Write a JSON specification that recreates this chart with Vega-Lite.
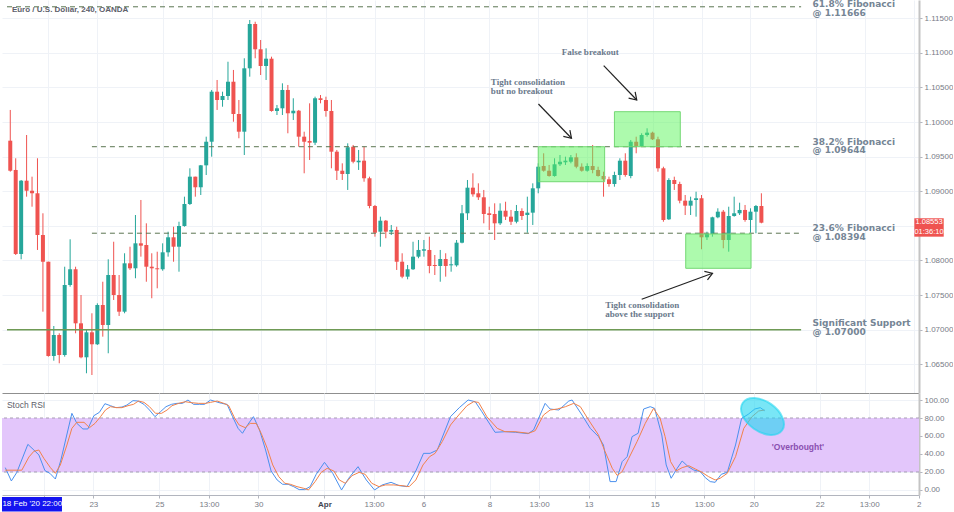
{
"$schema":"https://vega.github.io/schema/vega-lite/v6.json",
"padding":0,
"background":"white",
"spacing":0,
"bounds":"flush",
"config":{"view":{"stroke":null},"font":"Liberation Sans","axis":{"labelFont":"Liberation Sans","labelFontSize":8,"labelColor":"#787b86","gridColor":"#eff2f7","domainColor":"#b2b5be","tickColor":"#b2b5be"}},
"datasets":{
"candles":[
{"i":1,"o":1.09731,"h":1.10175,"l":1.09283,"c":1.09297},
{"i":2,"o":1.09308,"h":1.09477,"l":1.08079,"c":1.08094},
{"i":3,"o":1.08094,"h":1.09163,"l":1.08017,"c":1.09153},
{"i":4,"o":1.09153,"h":1.09813,"l":1.08922,"c":1.09008},
{"i":5,"o":1.09008,"h":1.09211,"l":1.08777,"c":1.08971},
{"i":6,"o":1.08971,"h":1.09477,"l":1.08152,"c":1.08368},
{"i":7,"o":1.08368,"h":1.08682,"l":1.0726,"c":1.07982},
{"i":8,"o":1.07982,"h":1.07982,"l":1.0661,"c":1.0662},
{"i":9,"o":1.0662,"h":1.07053,"l":1.06552,"c":1.06923},
{"i":10,"o":1.06923,"h":1.06948,"l":1.06514,"c":1.06634},
{"i":11,"o":1.06634,"h":1.0791,"l":1.0661,"c":1.07646},
{"i":12,"o":1.07646,"h":1.08306,"l":1.07621,"c":1.07873},
{"i":13,"o":1.07873,"h":1.0791,"l":1.06948,"c":1.07092},
{"i":14,"o":1.07092,"h":1.07501,"l":1.06587,"c":1.06601},
{"i":15,"o":1.06601,"h":1.06996,"l":1.0637,"c":1.06962},
{"i":16,"o":1.06962,"h":1.07237,"l":1.06345,"c":1.06789},
{"i":17,"o":1.06789,"h":1.07381,"l":1.06779,"c":1.07357},
{"i":18,"o":1.07357,"h":1.07693,"l":1.06899,"c":1.07068},
{"i":19,"o":1.07068,"h":1.08017,"l":1.06659,"c":1.0779},
{"i":20,"o":1.0779,"h":1.08271,"l":1.07429,"c":1.07501},
{"i":21,"o":1.07501,"h":1.0779,"l":1.07198,"c":1.0726},
{"i":22,"o":1.0726,"h":1.08104,"l":1.07237,"c":1.07959},
{"i":23,"o":1.07959,"h":1.08199,"l":1.07863,"c":1.07887},
{"i":24,"o":1.07887,"h":1.08657,"l":1.07743,"c":1.08248},
{"i":25,"o":1.08248,"h":1.08874,"l":1.08055,"c":1.08214},
{"i":26,"o":1.08224,"h":1.08537,"l":1.07693,"c":1.0791},
{"i":27,"o":1.0791,"h":1.08104,"l":1.07454,"c":1.07887},
{"i":28,"o":1.07887,"h":1.08127,"l":1.07598,"c":1.07873},
{"i":29,"o":1.07873,"h":1.08248,"l":1.07852,"c":1.08118},
{"i":30,"o":1.08118,"h":1.08416,"l":1.08055,"c":1.08335},
{"i":31,"o":1.08335,"h":1.08488,"l":1.07982,"c":1.08199},
{"i":32,"o":1.08199,"h":1.0856,"l":1.07838,"c":1.08498},
{"i":33,"o":1.08498,"h":1.08922,"l":1.08488,"c":1.08816},
{"i":34,"o":1.08816,"h":1.09332,"l":1.08802,"c":1.09211},
{"i":35,"o":1.09211,"h":1.09211,"l":1.08922,"c":1.09058},
{"i":36,"o":1.09058,"h":1.0938,"l":1.08946,"c":1.09375},
{"i":37,"o":1.09375,"h":1.09789,"l":1.09235,"c":1.09716},
{"i":38,"o":1.09716,"h":1.10464,"l":1.095,"c":1.10439},
{"i":39,"o":1.10439,"h":1.10608,"l":1.10175,"c":1.10319},
{"i":40,"o":1.10319,"h":1.10439,"l":1.10222,"c":1.10377},
{"i":41,"o":1.10377,"h":1.10872,"l":1.10319,"c":1.10583},
{"i":42,"o":1.10583,"h":1.10753,"l":1.10005,"c":1.10117},
{"i":43,"o":1.10117,"h":1.10319,"l":1.09766,"c":1.09861},
{"i":44,"o":1.09861,"h":1.10922,"l":1.09524,"c":1.10777},
{"i":45,"o":1.10777,"h":1.11475,"l":1.10656,"c":1.11417},
{"i":46,"o":1.11417,"h":1.1145,"l":1.10922,"c":1.11052},
{"i":47,"o":1.11052,"h":1.11186,"l":1.1068,"c":1.1081},
{"i":48,"o":1.1081,"h":1.11066,"l":1.10608,"c":1.10916},
{"i":49,"o":1.10916,"h":1.10945,"l":1.1015,"c":1.1016},
{"i":50,"o":1.1016,"h":1.10247,"l":1.10102,"c":1.10199},
{"i":51,"o":1.10199,"h":1.1056,"l":1.10102,"c":1.10464},
{"i":52,"o":1.10464,"h":1.10536,"l":1.09838,"c":1.10127},
{"i":53,"o":1.10127,"h":1.10344,"l":1.1003,"c":1.10164},
{"i":54,"o":1.10164,"h":1.10175,"l":1.09644,"c":1.09789},
{"i":55,"o":1.09789,"h":1.09861,"l":1.0926,"c":1.09716},
{"i":56,"o":1.09727,"h":1.10271,"l":1.09452,"c":1.09702},
{"i":57,"o":1.09702,"h":1.10367,"l":1.09669,"c":1.10344},
{"i":58,"o":1.10344,"h":1.10391,"l":1.10271,"c":1.10319},
{"i":59,"o":1.10319,"h":1.10367,"l":1.10078,"c":1.1016},
{"i":60,"o":1.1016,"h":1.10319,"l":1.09332,"c":1.09572},
{"i":61,"o":1.09572,"h":1.09597,"l":1.09163,"c":1.09297},
{"i":62,"o":1.09297,"h":1.09404,"l":1.09163,"c":1.0925},
{"i":63,"o":1.0925,"h":1.09693,"l":1.09019,"c":1.09636},
{"i":64,"o":1.09644,"h":1.09669,"l":1.09404,"c":1.09427},
{"i":65,"o":1.09419,"h":1.09597,"l":1.09308,"c":1.09442},
{"i":66,"o":1.09442,"h":1.09644,"l":1.09138,"c":1.09188},
{"i":67,"o":1.09188,"h":1.09211,"l":1.08754,"c":1.08787},
{"i":68,"o":1.08787,"h":1.08802,"l":1.08344,"c":1.08401},
{"i":69,"o":1.08416,"h":1.08633,"l":1.08199,"c":1.08575},
{"i":70,"o":1.08575,"h":1.08585,"l":1.08321,"c":1.08416},
{"i":71,"o":1.08416,"h":1.08513,"l":1.08368,"c":1.08441},
{"i":72,"o":1.08441,"h":1.08488,"l":1.07863,"c":1.07982},
{"i":73,"o":1.07982,"h":1.08104,"l":1.07743,"c":1.07766},
{"i":74,"o":1.07766,"h":1.07935,"l":1.07728,"c":1.07873},
{"i":75,"o":1.07873,"h":1.08271,"l":1.07863,"c":1.08055},
{"i":76,"o":1.08055,"h":1.08296,"l":1.08032,"c":1.08152},
{"i":77,"o":1.08141,"h":1.08296,"l":1.08055,"c":1.08162},
{"i":78,"o":1.08152,"h":1.08344,"l":1.07815,"c":1.0792},
{"i":79,"o":1.07935,"h":1.08079,"l":1.0779,"c":1.0792},
{"i":80,"o":1.0792,"h":1.08152,"l":1.07693,"c":1.08021},
{"i":81,"o":1.08021,"h":1.08104,"l":1.07766,"c":1.0792},
{"i":82,"o":1.0793,"h":1.08055,"l":1.07838,"c":1.07945},
{"i":83,"o":1.0793,"h":1.08296,"l":1.0791,"c":1.08257},
{"i":84,"o":1.08257,"h":1.08802,"l":1.08248,"c":1.08682},
{"i":85,"o":1.08682,"h":1.09163,"l":1.08585,"c":1.09052},
{"i":86,"o":1.09052,"h":1.0926,"l":1.08922,"c":1.08956},
{"i":87,"o":1.08971,"h":1.09115,"l":1.08874,"c":1.08913},
{"i":88,"o":1.08913,"h":1.09019,"l":1.08537,"c":1.08672},
{"i":89,"o":1.08682,"h":1.08777,"l":1.08441,"c":1.08657},
{"i":90,"o":1.08672,"h":1.08826,"l":1.08296,"c":1.08537},
{"i":91,"o":1.08537,"h":1.08826,"l":1.08513,"c":1.08719},
{"i":92,"o":1.08719,"h":1.08849,"l":1.08585,"c":1.08633},
{"i":93,"o":1.08633,"h":1.0873,"l":1.08513,"c":1.0856},
{"i":94,"o":1.0856,"h":1.08802,"l":1.08537,"c":1.08715},
{"i":95,"o":1.08715,"h":1.08754,"l":1.08585,"c":1.08643},
{"i":96,"o":1.08657,"h":1.08922,"l":1.08401,"c":1.08691},
{"i":97,"o":1.08691,"h":1.09115,"l":1.08513,"c":1.09043},
{"i":98,"o":1.09043,"h":1.09404,"l":1.08971,"c":1.09355},
{"i":99,"o":1.09365,"h":1.09549,"l":1.09283,"c":1.09297},
{"i":100,"o":1.09297,"h":1.0938,"l":1.09211,"c":1.09221},
{"i":101,"o":1.09221,"h":1.09477,"l":1.09211,"c":1.0939},
{"i":102,"o":1.0939,"h":1.09524,"l":1.09365,"c":1.09427},
{"i":103,"o":1.09419,"h":1.095,"l":1.0938,"c":1.09442},
{"i":104,"o":1.09427,"h":1.09524,"l":1.09404,"c":1.09491},
{"i":105,"o":1.09491,"h":1.09549,"l":1.09332,"c":1.09355},
{"i":106,"o":1.09355,"h":1.09404,"l":1.09283,"c":1.09297},
{"i":107,"o":1.09297,"h":1.09404,"l":1.09283,"c":1.09365},
{"i":108,"o":1.09365,"h":1.09669,"l":1.0926,"c":1.09308},
{"i":109,"o":1.09308,"h":1.09355,"l":1.09211,"c":1.09221},
{"i":110,"o":1.09221,"h":1.09283,"l":1.08922,"c":1.09173},
{"i":111,"o":1.09173,"h":1.09211,"l":1.09066,"c":1.09105},
{"i":112,"o":1.09105,"h":1.09283,"l":1.09066,"c":1.09235},
{"i":113,"o":1.09235,"h":1.09477,"l":1.09163,"c":1.09442},
{"i":114,"o":1.09442,"h":1.09549,"l":1.09211,"c":1.09235},
{"i":115,"o":1.09221,"h":1.09741,"l":1.09188,"c":1.09716},
{"i":116,"o":1.09716,"h":1.09789,"l":1.09549,"c":1.09654},
{"i":117,"o":1.09654,"h":1.09838,"l":1.09644,"c":1.09813},
{"i":118,"o":1.09813,"h":1.0991,"l":1.09789,"c":1.09847},
{"i":119,"o":1.09847,"h":1.09861,"l":1.09741,"c":1.09751},
{"i":120,"o":1.09751,"h":1.09789,"l":1.09283,"c":1.09332},
{"i":121,"o":1.09332,"h":1.09355,"l":1.0856,"c":1.08585},
{"i":122,"o":1.08595,"h":1.09188,"l":1.08585,"c":1.09163},
{"i":123,"o":1.09163,"h":1.09211,"l":1.09019,"c":1.09105},
{"i":124,"o":1.09105,"h":1.09138,"l":1.08826,"c":1.08864},
{"i":125,"o":1.08864,"h":1.08946,"l":1.08657,"c":1.08792},
{"i":126,"o":1.08792,"h":1.08922,"l":1.08657,"c":1.08864},
{"i":127,"o":1.08874,"h":1.08994,"l":1.08633,"c":1.08899},
{"i":128,"o":1.08899,"h":1.08946,"l":1.08162,"c":1.08335},
{"i":129,"o":1.08335,"h":1.08416,"l":1.08296,"c":1.08383},
{"i":130,"o":1.08383,"h":1.08633,"l":1.08344,"c":1.08624},
{"i":131,"o":1.08624,"h":1.08754,"l":1.0861,"c":1.08705},
{"i":132,"o":1.08705,"h":1.0873,"l":1.08176,"c":1.08296},
{"i":133,"o":1.08296,"h":1.08777,"l":1.08127,"c":1.08643},
{"i":134,"o":1.08643,"h":1.08922,"l":1.08633,"c":1.08682},
{"i":135,"o":1.08682,"h":1.08835,"l":1.08657,"c":1.0873},
{"i":136,"o":1.0873,"h":1.08802,"l":1.0856,"c":1.08585},
{"i":137,"o":1.08585,"h":1.08754,"l":1.08401,"c":1.08705},
{"i":138,"o":1.08705,"h":1.08802,"l":1.08393,"c":1.08787},
{"i":139,"o":1.08787,"h":1.08971,"l":1.08537,"c":1.08546}
],
"levels":[
{"kind":"fib","p":1.11666,"a":0.4,"b":146.3},
{"kind":"fib","p":1.09644,"a":16,"b":146.3},
{"kind":"fib","p":1.08394,"a":16,"b":146.3},
{"kind":"support","p":1.07,"a":0.4,"b":146.3}
],
"levelLabels":[
{"t":"61.8% Fibonacci\n@ 1.11666","i":148.4,"p":1.11764},
{"t":"38.2% Fibonacci\n@ 1.09644","i":148.4,"p":1.09777},
{"t":"23.6% Fibonacci\n@ 1.08394","i":148.4,"p":1.08523},
{"t":"Significant Support\n@ 1.07000","i":148.4,"p":1.07154}
],
"boxes":[
{"a":98.0,"b":110.2,"lo":1.09138,"hi":1.09644},
{"a":112.0,"b":124.1,"lo":1.09644,"hi":1.1015},
{"a":125.1,"b":137.1,"lo":1.07887,"hi":1.08383}
],
"arrows":[
{"n":"a1","i1":98.04,"p1":1.10261,"i2":104.11,"p2":1.09766},
{"n":"a2","i1":110.03,"p1":1.10815,"i2":116.1,"p2":1.10319},
{"n":"a3","i1":117.01,"p1":1.07439,"i2":130.02,"p2":1.07815}
],
"notes":[
{"t":"Tight consolidation\nbut no breakout","i":89.3,"p":1.1064},
{"t":"False breakout","i":102.3,"p":1.1107},
{"t":"Tight consolidation\nabove the support","i":110.3,"p":1.0741}
],
"titles":[{"t":"Euro / U.S. Dollar, 240, OANDA","i":1.3,"p":1.11615}],
"tag":[{"a":167.1,"b":172.5,"lo":1.08344,"hi":1.0861}],
"tagText":[{"t":"1.08553","i":169.8,"p":1.08552},{"t":"01:36:10","i":169.8,"p":1.08411}],
"band":[{"lo":20,"hi":80}],
"bandLines":[{"v":80},{"v":20}],
"rsi":[
{"s":"K","i":1.0,"v":24.8},{"s":"K","i":2.1,"v":10},{"s":"K","i":3.1,"v":19.6},{"s":"K","i":5.1,"v":50.7},{"s":"K","i":6.2,"v":44.4},{"s":"K","i":7.1,"v":38.9},{"s":"K","i":8.2,"v":21.5},{"s":"K","i":9.1,"v":18.5},{"s":"K","i":10.1,"v":12.2},{"s":"K","i":11.1,"v":33.3},{"s":"K","i":13.1,"v":85.2},{"s":"K","i":14.0,"v":74.1},{"s":"K","i":15.1,"v":67.8},{"s":"K","i":16.0,"v":67.8},{"s":"K","i":17.1,"v":82.6},{"s":"K","i":18.1,"v":86.3},{"s":"K","i":19.1,"v":95.9},{"s":"K","i":20.1,"v":93.7},{"s":"K","i":21.1,"v":91.5},{"s":"K","i":22.2,"v":92.2},{"s":"K","i":23.1,"v":94.4},{"s":"K","i":24.2,"v":99.3},{"s":"K","i":25.1,"v":98.9},{"s":"K","i":26.2,"v":95.2},{"s":"K","i":27.2,"v":88.9},{"s":"K","i":28.2,"v":81.5},{"s":"K","i":29.2,"v":87},{"s":"K","i":30.2,"v":92.6},{"s":"K","i":31.2,"v":95.2},{"s":"K","i":32.2,"v":96.3},{"s":"K","i":33.2,"v":96.3},{"s":"K","i":34.2,"v":100},{"s":"K","i":35.2,"v":95.2},{"s":"K","i":36.3,"v":95.2},{"s":"K","i":37.2,"v":95.2},{"s":"K","i":38.3,"v":100},{"s":"K","i":39.3,"v":98.1},{"s":"K","i":40.3,"v":96.3},{"s":"K","i":41.3,"v":95.2},{"s":"K","i":42.3,"v":81.5},{"s":"K","i":43.3,"v":68.5},{"s":"K","i":44.1,"v":63},{"s":"K","i":45.1,"v":73},{"s":"K","i":46.1,"v":81.5},{"s":"K","i":47.2,"v":66.7},{"s":"K","i":48.3,"v":44.4},{"s":"K","i":49.3,"v":21.1},{"s":"K","i":50.4,"v":11.1},{"s":"K","i":51.4,"v":6.3},{"s":"K","i":52.4,"v":6.3},{"s":"K","i":53.4,"v":3.7},{"s":"K","i":54.4,"v":0.4},{"s":"K","i":55.4,"v":0.4},{"s":"K","i":56.4,"v":3.7},{"s":"K","i":57.5,"v":17.4},{"s":"K","i":59.0,"v":30.7},{"s":"K","i":60.5,"v":18.5},{"s":"K","i":62.1,"v":0},{"s":"K","i":63.4,"v":13},{"s":"K","i":65.1,"v":25.9},{"s":"K","i":66.6,"v":11.1},{"s":"K","i":68.1,"v":0},{"s":"K","i":69.5,"v":5.6},{"s":"K","i":71.1,"v":8.5},{"s":"K","i":72.6,"v":4.8},{"s":"K","i":74.0,"v":3.7},{"s":"K","i":75.6,"v":21.1},{"s":"K","i":77.0,"v":40.7},{"s":"K","i":78.2,"v":40.7},{"s":"K","i":79.5,"v":44.4},{"s":"K","i":81.9,"v":81.5},{"s":"K","i":83.5,"v":91.5},{"s":"K","i":85.1,"v":100},{"s":"K","i":86.4,"v":98.1},{"s":"K","i":87.6,"v":87},{"s":"K","i":90.0,"v":64.1},{"s":"K","i":91.9,"v":64.8},{"s":"K","i":93.7,"v":64.1},{"s":"K","i":96.0,"v":62.6},{"s":"K","i":97.0,"v":66.7},{"s":"K","i":99.1,"v":96.3},{"s":"K","i":100.0,"v":90},{"s":"K","i":101.6,"v":88.9},{"s":"K","i":103.4,"v":98.9},{"s":"K","i":104.0,"v":100},{"s":"K","i":105.8,"v":83.3},{"s":"K","i":107.3,"v":68.5},{"s":"K","i":108.8,"v":59.3},{"s":"K","i":109.7,"v":50},{"s":"K","i":110.9,"v":9.3},{"s":"K","i":112.0,"v":9.3},{"s":"K","i":113.1,"v":31.5},{"s":"K","i":114.0,"v":37},{"s":"K","i":114.9,"v":59.3},{"s":"K","i":116.0,"v":63},{"s":"K","i":117.0,"v":90},{"s":"K","i":118.2,"v":92.6},{"s":"K","i":119.0,"v":90.7},{"s":"K","i":120.3,"v":61.1},{"s":"K","i":121.1,"v":27.8},{"s":"K","i":122.0,"v":13},{"s":"K","i":123.1,"v":24.1},{"s":"K","i":124.0,"v":32.2},{"s":"K","i":125.1,"v":25.9},{"s":"K","i":126.1,"v":22.2},{"s":"K","i":127.3,"v":20.4},{"s":"K","i":128.2,"v":13.7},{"s":"K","i":129.1,"v":9.3},{"s":"K","i":130.0,"v":8.5},{"s":"K","i":131.1,"v":17.4},{"s":"K","i":132.2,"v":19.6},{"s":"K","i":133.7,"v":50},{"s":"K","i":134.8,"v":79.6},{"s":"K","i":136.0,"v":84.1},{"s":"K","i":137.2,"v":90},{"s":"K","i":138.2,"v":91.5},{"s":"K","i":139.0,"v":88},
{"s":"D","i":1.0,"v":22},{"s":"D","i":4.0,"v":22},{"s":"D","i":5.3,"v":36.7},{"s":"D","i":6.2,"v":43},{"s":"D","i":7.1,"v":44.4},{"s":"D","i":8.0,"v":35.2},{"s":"D","i":9.2,"v":24.8},{"s":"D","i":10.1,"v":18.5},{"s":"D","i":11.0,"v":27.8},{"s":"D","i":12.2,"v":50},{"s":"D","i":13.1,"v":68.5},{"s":"D","i":14.0,"v":75.2},{"s":"D","i":15.3,"v":75.2},{"s":"D","i":16.3,"v":69.3},{"s":"D","i":17.3,"v":74},{"s":"D","i":18.3,"v":81.5},{"s":"D","i":19.2,"v":88.9},{"s":"D","i":20.1,"v":92.6},{"s":"D","i":21.3,"v":91.5},{"s":"D","i":22.2,"v":91.5},{"s":"D","i":23.3,"v":93.7},{"s":"D","i":24.3,"v":95.2},{"s":"D","i":25.2,"v":98.9},{"s":"D","i":26.2,"v":97.4},{"s":"D","i":27.2,"v":92.6},{"s":"D","i":28.3,"v":85.2},{"s":"D","i":29.4,"v":85.2},{"s":"D","i":30.4,"v":88.9},{"s":"D","i":31.3,"v":93.7},{"s":"D","i":32.5,"v":96.3},{"s":"D","i":33.7,"v":98.1},{"s":"D","i":34.9,"v":97},{"s":"D","i":36.1,"v":96.3},{"s":"D","i":37.4,"v":96.3},{"s":"D","i":38.3,"v":97.4},{"s":"D","i":39.5,"v":98.9},{"s":"D","i":40.7,"v":96.3},{"s":"D","i":41.6,"v":93.7},{"s":"D","i":42.7,"v":79.6},{"s":"D","i":43.5,"v":72.2},{"s":"D","i":44.6,"v":69.3},{"s":"D","i":45.5,"v":74},{"s":"D","i":46.6,"v":74},{"s":"D","i":47.5,"v":63},{"s":"D","i":48.6,"v":46.3},{"s":"D","i":49.6,"v":27.8},{"s":"D","i":50.7,"v":14.8},{"s":"D","i":51.8,"v":7.4},{"s":"D","i":52.8,"v":6.3},{"s":"D","i":54.0,"v":3.7},{"s":"D","i":55.2,"v":1.9},{"s":"D","i":56.1,"v":0},{"s":"D","i":57.3,"v":9.3},{"s":"D","i":58.4,"v":19.6},{"s":"D","i":59.5,"v":24.1},{"s":"D","i":60.7,"v":21.1},{"s":"D","i":61.7,"v":11.1},{"s":"D","i":62.8,"v":7.4},{"s":"D","i":64.0,"v":15.9},{"s":"D","i":65.3,"v":19.6},{"s":"D","i":66.4,"v":17.4},{"s":"D","i":67.6,"v":7.4},{"s":"D","i":68.9,"v":3.7},{"s":"D","i":70.1,"v":5.6},{"s":"D","i":71.6,"v":5.6},{"s":"D","i":73.1,"v":4.8},{"s":"D","i":74.4,"v":3.7},{"s":"D","i":75.6,"v":11.1},{"s":"D","i":76.9,"v":27.8},{"s":"D","i":78.1,"v":37},{"s":"D","i":79.1,"v":40.7},{"s":"D","i":80.4,"v":53.7},{"s":"D","i":81.9,"v":72.2},{"s":"D","i":83.4,"v":83.3},{"s":"D","i":84.9,"v":93.7},{"s":"D","i":86.1,"v":98.1},{"s":"D","i":87.0,"v":97.4},{"s":"D","i":88.5,"v":81.5},{"s":"D","i":90.4,"v":68.5},{"s":"D","i":91.8,"v":64.8},{"s":"D","i":93.6,"v":64.8},{"s":"D","i":96.1,"v":63},{"s":"D","i":97.3,"v":65.9},{"s":"D","i":98.8,"v":83.3},{"s":"D","i":100.0,"v":88.9},{"s":"D","i":101.3,"v":90},{"s":"D","i":102.8,"v":92.6},{"s":"D","i":104.3,"v":96.3},{"s":"D","i":105.5,"v":92.6},{"s":"D","i":107.0,"v":77.8},{"s":"D","i":108.8,"v":61.1},{"s":"D","i":110.0,"v":42.6},{"s":"D","i":111.3,"v":24.1},{"s":"D","i":112.2,"v":16.1},{"s":"D","i":113.1,"v":20.4},{"s":"D","i":114.3,"v":35.2},{"s":"D","i":115.8,"v":53.7},{"s":"D","i":117.3,"v":74.1},{"s":"D","i":118.8,"v":90.7},{"s":"D","i":120.0,"v":79.6},{"s":"D","i":120.9,"v":59.3},{"s":"D","i":121.9,"v":31.5},{"s":"D","i":122.9,"v":21.1},{"s":"D","i":124.0,"v":24.8},{"s":"D","i":125.2,"v":27},{"s":"D","i":126.4,"v":23.3},{"s":"D","i":127.6,"v":19.6},{"s":"D","i":128.8,"v":14.8},{"s":"D","i":130.0,"v":11.1},{"s":"D","i":130.9,"v":13},{"s":"D","i":132.2,"v":18.5},{"s":"D","i":133.7,"v":37},{"s":"D","i":135.2,"v":68.5},{"s":"D","i":136.7,"v":81.5},{"s":"D","i":137.9,"v":87.8},{"s":"D","i":139.0,"v":88.9}
],
"ellipse":[{"i":138.6,"v":81.7}],
"rsiNotes":[{"t":"'Overbought'","i":140.3,"v":48.1}],
"rsiTitle":[{"t":"Stoch RSI","i":1.3,"v":94.4}],
"cursor":[{"a":0.4,"b":11.3,"lo":-24,"hi":-7.8}],
"cursorText":[{"t":"18 Feb '20   22:00","i":5.9,"v":-16.1}]
},
"vconcat":[
{
"width":917,"height":393,
"layer":[
{"data":{"name":"candles"},"mark":{"type":"rule","strokeWidth":1},
 "encoding":{
  "x":{"field":"i","type":"quantitative","scale":{"domain":[0.4,167.04],"nice":false,"zero":false},
       "axis":{"orient":"bottom","values":[8,17,29,38,47,59,68,77,89,98,107,119,128,137,149,158,167],"tickCount":40,"labels":false,"ticks":false,"domain":true,"domainColor":"#8f8f8f","grid":true,"title":null}},
  "y":{"field":"l","type":"quantitative","scale":{"domain":[1.06085,1.11764],"nice":false,"zero":false},
       "axis":{"orient":"right","values":[1.065,1.07,1.075,1.08,1.085,1.09,1.095,1.1,1.105,1.11,1.115],"tickCount":30,"labelExpr":"abs(datum.value - 1.085) < 0.000001 ? '' : format(datum.value, '.5f')","labelOverlap":false,"grid":true,"domainColor":"#c4c4c4","domainWidth":2,"tickSize":3,"labelPadding":2,"title":null}},
  "y2":{"field":"h"},
  "color":{"condition":{"test":"datum.c < datum.o","value":"#ef5350"},"value":"#26a69a"}}},
{"data":{"name":"candles"},"mark":{"type":"bar","size":4},
 "encoding":{
  "x":{"field":"i","type":"quantitative","scale":{"domain":[0.4,167.04],"nice":false,"zero":false},"title":null},
  "y":{"field":"o","type":"quantitative","scale":{"domain":[1.06085,1.11764],"nice":false,"zero":false},"title":null},
  "y2":{"field":"c"},
  "color":{"condition":{"test":"datum.c < datum.o","value":"#ef5350"},"value":"#26a69a"}}},
{"data":{"name":"levels"},"transform":[{"filter":"datum.kind == 'fib'"}],"mark":{"type":"rule","strokeDash":[5,4],"color":"#5b7551","strokeWidth":1},
 "encoding":{
  "x":{"field":"a","type":"quantitative","scale":{"domain":[0.4,167.04],"nice":false,"zero":false},"title":null},
  "x2":{"field":"b"},
  "y":{"field":"p","type":"quantitative","scale":{"domain":[1.06085,1.11764],"nice":false,"zero":false},"title":null}}},
{"data":{"name":"levels"},"transform":[{"filter":"datum.kind == 'support'"}],"mark":{"type":"rule","color":"#6f9a55","strokeWidth":1.5},
 "encoding":{
  "x":{"field":"a","type":"quantitative","scale":{"domain":[0.4,167.04],"nice":false,"zero":false},"title":null},
  "x2":{"field":"b"},
  "y":{"field":"p","type":"quantitative","scale":{"domain":[1.06085,1.11764],"nice":false,"zero":false},"title":null}}},
{"data":{"name":"boxes"},"mark":{"type":"rect","fill":"#5cf55c","fillOpacity":0.5,"stroke":"#74d874","strokeWidth":1},
 "encoding":{
  "x":{"field":"a","type":"quantitative","scale":{"domain":[0.4,167.04],"nice":false,"zero":false},"title":null},
  "x2":{"field":"b"},
  "y":{"field":"lo","type":"quantitative","scale":{"domain":[1.06085,1.11764],"nice":false,"zero":false},"title":null},
  "y2":{"field":"hi"}}},
{"data":{"name":"arrows"},"mark":{"type":"rule","color":"#222222","strokeWidth":1.2},
 "encoding":{
  "x":{"field":"i1","type":"quantitative","scale":{"domain":[0.4,167.04],"nice":false,"zero":false},"title":null},
  "x2":{"field":"i2"},
  "y":{"field":"p1","type":"quantitative","scale":{"domain":[1.06085,1.11764],"nice":false,"zero":false},"title":null},
  "y2":{"field":"p2"}}},
{"data":{"name":"arrows"},"mark":{"type":"point","shape":"M -1 -0.65 L 0 0 L -1 0.65","filled":false,"stroke":"#222222","strokeWidth":1.2,"size":196,"opacity":1},
 "encoding":{
  "x":{"field":"i2","type":"quantitative","scale":{"domain":[0.4,167.04],"nice":false,"zero":false},"title":null},
  "y":{"field":"p2","type":"quantitative","scale":{"domain":[1.06085,1.11764],"nice":false,"zero":false},"title":null},
  "angle":{"condition":{"test":"datum.n == 'a3'","value":340},"value":46}}},
{"data":{"name":"notes"},"mark":{"type":"text","align":"left","baseline":"top","font":"Liberation Serif","fontWeight":"bold","fontSize":9,"lineHeight":9,"lineBreak":"\n","color":"#6b7a8c"},
 "encoding":{
  "x":{"field":"i","type":"quantitative","scale":{"domain":[0.4,167.04],"nice":false,"zero":false},"title":null},
  "y":{"field":"p","type":"quantitative","scale":{"domain":[1.06085,1.11764],"nice":false,"zero":false},"title":null},
  "text":{"field":"t"}}},
{"data":{"name":"levelLabels"},"mark":{"type":"text","align":"left","baseline":"top","font":"DejaVu Sans","fontWeight":"bold","fontSize":9,"lineHeight":8.5,"lineBreak":"\n","color":"#758595"},
 "encoding":{
  "x":{"field":"i","type":"quantitative","scale":{"domain":[0.4,167.04],"nice":false,"zero":false},"title":null},
  "y":{"field":"p","type":"quantitative","scale":{"domain":[1.06085,1.11764],"nice":false,"zero":false},"title":null},
  "text":{"field":"t"}}},
{"data":{"name":"titles"},"mark":{"type":"text","align":"left","baseline":"middle","font":"Liberation Sans","fontWeight":"bold","fontSize":8,"color":"#5d606b"},
 "encoding":{
  "x":{"field":"i","type":"quantitative","scale":{"domain":[0.4,167.04],"nice":false,"zero":false},"title":null},
  "y":{"field":"p","type":"quantitative","scale":{"domain":[1.06085,1.11764],"nice":false,"zero":false},"title":null},
  "text":{"field":"t"}}},
{"data":{"name":"tag"},"mark":{"type":"rect","fill":"#ef5350"},
 "encoding":{
  "x":{"field":"a","type":"quantitative","scale":{"domain":[0.4,167.04],"nice":false,"zero":false},"title":null},
  "x2":{"field":"b"},
  "y":{"field":"lo","type":"quantitative","scale":{"domain":[1.06085,1.11764],"nice":false,"zero":false},"title":null},
  "y2":{"field":"hi"}}},
{"data":{"name":"tagText"},"mark":{"type":"text","align":"center","baseline":"middle","font":"Liberation Sans","fontSize":7.5,"color":"white"},
 "encoding":{
  "x":{"field":"i","type":"quantitative","scale":{"domain":[0.4,167.04],"nice":false,"zero":false},"title":null},
  "y":{"field":"p","type":"quantitative","scale":{"domain":[1.06085,1.11764],"nice":false,"zero":false},"title":null},
  "text":{"field":"t"}}}
]
},
{
"width":917,"height":102,
"layer":[
{"data":{"name":"band"},"mark":{"type":"rect","fill":"#e3c6fb"},
 "encoding":{
  "x":{"datum":0.4,"type":"quantitative","scale":{"domain":[0.4,167.04],"nice":false,"zero":false},
       "axis":{"orient":"bottom","values":[8,17,29,38,47,59,68,77,89,98,107,119,128,137,149,158,167],"tickCount":40,
        "labelExpr":"['','23','25','13:00','30','Apr','13:00','6','8','13:00','13','15','13:00','20','22','13:00','2'][indexof([8,17,29,38,47,59,68,77,89,98,107,119,128,137,149,158,167], datum.value)]",
        "grid":true,"tickSize":3,"labelPadding":2,"labelFlush":false,"labelOverlap":false,
        "labelFontWeight":{"condition":{"test":"datum.value == 59","value":"bold"},"value":"normal"},
        "labelColor":{"condition":{"test":"datum.value == 59","value":"#434651"},"value":"#787b86"},
        "title":null}},
  "x2":{"datum":167.04},
  "y":{"field":"lo","type":"quantitative","scale":{"domain":[-5.6,107.8],"nice":false,"zero":false},
       "axis":{"orient":"right","values":[0,20,40,60,80,100],"tickCount":20,"format":".2f","labelOverlap":false,"grid":true,"domainColor":"#c4c4c4","domainWidth":2,"tickSize":3,"labelPadding":2,"title":null}},
  "y2":{"field":"hi"}}},
{"data":{"name":"bandLines"},"mark":{"type":"rule","strokeDash":[3,3],"color":"#a79db3","strokeWidth":1},
 "encoding":{
  "y":{"field":"v","type":"quantitative","scale":{"domain":[-5.6,107.8],"nice":false,"zero":false},"title":null}}},
{"data":{"name":"rsi"},"mark":{"type":"line","strokeWidth":1},
 "encoding":{
  "x":{"field":"i","type":"quantitative","scale":{"domain":[0.4,167.04],"nice":false,"zero":false},"title":null},
  "y":{"field":"v","type":"quantitative","scale":{"domain":[-5.6,107.8],"nice":false,"zero":false},"title":null},
  "color":{"field":"s","type":"nominal","scale":{"domain":["D","K"],"range":["#f2824a","#4a90ee"]},"legend":null}}},
{"data":{"name":"ellipse"},"mark":{"type":"point","shape":"M -1 0 A 1 0.625 0 1 0 1 0 A 1 0.625 0 1 0 -1 0 Z","filled":true,"fill":"#1fd6f0","fillOpacity":0.6,"stroke":"#1fd6f0","strokeOpacity":0.6,"size":2304,"angle":35},
 "encoding":{
  "x":{"field":"i","type":"quantitative","scale":{"domain":[0.4,167.04],"nice":false,"zero":false},"title":null},
  "y":{"field":"v","type":"quantitative","scale":{"domain":[-5.6,107.8],"nice":false,"zero":false},"title":null}}},
{"data":{"name":"rsiNotes"},"mark":{"type":"text","align":"left","baseline":"middle","font":"Liberation Sans","fontWeight":"bold","fontSize":8.5,"color":"#8a4fb0"},
 "encoding":{
  "x":{"field":"i","type":"quantitative","scale":{"domain":[0.4,167.04],"nice":false,"zero":false},"title":null},
  "y":{"field":"v","type":"quantitative","scale":{"domain":[-5.6,107.8],"nice":false,"zero":false},"title":null},
  "text":{"field":"t"}}},
{"data":{"name":"rsiTitle"},"mark":{"type":"text","align":"left","baseline":"middle","font":"Liberation Sans","fontSize":8.5,"color":"#5d606b"},
 "encoding":{
  "x":{"field":"i","type":"quantitative","scale":{"domain":[0.4,167.04],"nice":false,"zero":false},"title":null},
  "y":{"field":"v","type":"quantitative","scale":{"domain":[-5.6,107.8],"nice":false,"zero":false},"title":null},
  "text":{"field":"t"}}},
{"data":{"name":"cursor"},"mark":{"type":"rect","fill":"#1414f0"},
 "encoding":{
  "x":{"field":"a","type":"quantitative","scale":{"domain":[0.4,167.04],"nice":false,"zero":false},"title":null},
  "x2":{"field":"b"},
  "y":{"field":"lo","type":"quantitative","scale":{"domain":[-5.6,107.8],"nice":false,"zero":false},"title":null},
  "y2":{"field":"hi"}}},
{"data":{"name":"cursorText"},"mark":{"type":"text","align":"center","baseline":"middle","font":"Liberation Sans","fontSize":8,"color":"white"},
 "encoding":{
  "x":{"field":"i","type":"quantitative","scale":{"domain":[0.4,167.04],"nice":false,"zero":false},"title":null},
  "y":{"field":"v","type":"quantitative","scale":{"domain":[-5.6,107.8],"nice":false,"zero":false},"title":null},
  "text":{"field":"t"}}}
]
}
]
}
